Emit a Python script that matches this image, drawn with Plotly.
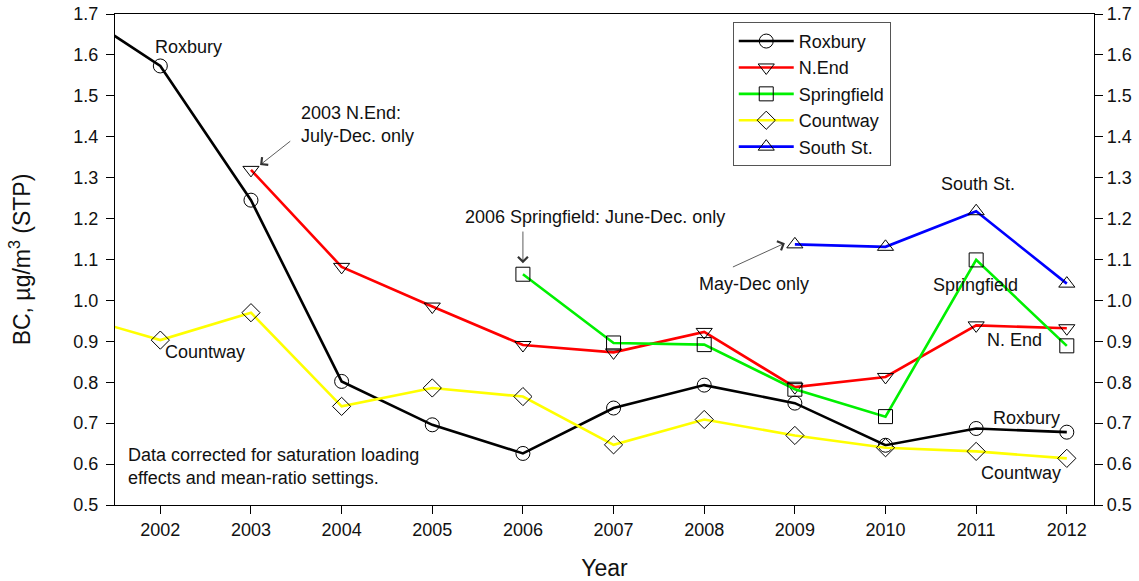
import plotly.graph_objects as go

years = [2001, 2002, 2003, 2004, 2005, 2006, 2007, 2008, 2009, 2010, 2011, 2012]
roxbury = [1.719, 1.573, 1.245, 0.802, 0.696, 0.626, 0.737, 0.793, 0.749, 0.646, 0.687, 0.678]
countway = [0.967, 0.903, 0.970, 0.741, 0.786, 0.765, 0.647, 0.709, 0.670, 0.640, 0.631, 0.614]
nend_years = [2003, 2004, 2005, 2006, 2007, 2008, 2009, 2010, 2011, 2012]
nend = [1.319, 1.082, 0.985, 0.891, 0.873, 0.923, 0.788, 0.813, 0.939, 0.932]
spring_years = [2006, 2007, 2008, 2009, 2010, 2011, 2012]
springfield = [1.064, 0.896, 0.892, 0.783, 0.716, 1.099, 0.889]
south_years = [2009, 2010, 2011, 2012]
southst = [1.137, 1.131, 1.218, 1.041]
tick_years = [2002, 2003, 2004, 2005, 2006, 2007, 2008, 2009, 2010, 2011, 2012]

FONT = "Liberation Sans, Arial, sans-serif"
TXT = "#111111"

def trace(name, x, y, color, symbol):
    return go.Scatter(
        x=x, y=y, name=name, mode="lines+markers",
        line=dict(color=color, width=2.6),
        marker=dict(symbol=symbol, size=14, color="black",
                    line=dict(color="black", width=1)),
    )

fig = go.Figure()
fig.add_trace(trace("Roxbury", years, roxbury, "black", "circle-open"))
fig.add_trace(trace("N.End", nend_years, nend, "#ff0000", "triangle-down-open"))
fig.add_trace(trace("Springfield", spring_years, springfield, "#00f000", "square-open"))
fig.add_trace(trace("Countway", years, countway, "#ffff00", "diamond-open"))
fig.add_trace(trace("South St.", south_years, southst, "#0000ff", "triangle-up-open"))
# invisible trace on the right axis so it renders
fig.add_trace(go.Scatter(x=[2002], y=[1.0], yaxis="y2", mode="markers",
                         marker=dict(opacity=0), showlegend=False, hoverinfo="skip"))

annotations = [
    dict(x=2002.31, y=1.619, text="Roxbury"),
    dict(x=2002.49, y=0.874, text="Countway"),
    dict(x=2003.53, y=1.431, text="2003 N.End:<br>July-Dec. only", xanchor="left", align="left"),
    dict(x=2006.80, y=1.205, text="2006 Springfield: June-Dec. only"),
    dict(x=2008.55, y=1.039, text="May-Dec only"),
    dict(x=2011.02, y=1.284, text="South St."),
    dict(x=2010.99, y=1.038, text="Springfield"),
    dict(x=2011.42, y=0.903, text="N. End"),
    dict(x=2011.55, y=0.712, text="Roxbury"),
    dict(x=2011.50, y=0.579, text="Countway"),
    dict(x=2001.62, y=0.593, text="Data corrected for saturation loading<br>effects and mean-ratio settings.",
         xanchor="left", align="left"),
]
for a in annotations:
    a["showarrow"] = False
    a["font"] = dict(family=FONT, size=18, color=TXT)
    a["xref"] = "x"; a["yref"] = "y"

# arrows: (head x, head y, tail x, tail y)
arrows = [
    (2003.10, 1.331, 2003.45, 1.392),
    (2006.0, 1.091, 2006.0, 1.172),
    (2008.89, 1.140, 2008.30, 1.080),
]
for x, y, x0, y0 in arrows:
    annotations.append(dict(x=x, y=y, ax=x0, ay=y0, xref="x", yref="y", axref="x", ayref="y",
                            text="", showarrow=True, arrowhead=4, arrowsize=2.4, arrowwidth=0.8,
                            arrowcolor="#333333"))

axis_common = dict(showgrid=False, zeroline=False, showline=True, linecolor="black",
                   linewidth=1.3, ticks="outside", ticklen=8, tickcolor="black",
                   tickfont=dict(family=FONT, size=18, color=TXT), automargin=False)

fig.update_layout(
    width=1139, height=581,
    margin=dict(l=115, r=45, t=14, b=76),
    paper_bgcolor="white", plot_bgcolor="white",
    font=dict(family=FONT, size=18, color=TXT),
    showlegend=True,
    legend=dict(x=0.631, y=0.984, xanchor="left", yanchor="top",
                bordercolor="#555", borderwidth=1, bgcolor="white",
                font=dict(family=FONT, size=18, color=TXT), tracegroupgap=0, itemwidth=55),
    xaxis=dict(range=[2001.5, 2012.3], tickvals=tick_years, mirror=True,
               title=dict(text="Year", font=dict(size=23), standoff=23), **axis_common),
    yaxis=dict(range=[0.5, 1.7], dtick=0.1, tickformat=".1f", ticklabelstandoff=4,
               title=dict(text="BC, µg/m<sup>3</sup> (STP)", font=dict(size=23), standoff=36),
               **axis_common),
    yaxis2=dict(range=[0.5, 1.7], dtick=0.1, tickformat=".1f", overlaying="y", side="right",
                **axis_common),
    annotations=annotations,
)

fig.write_html("out.html", config={"displayModeBar": False},
               post_script="document.body.style.margin='0';document.body.style.overflow='hidden';")
